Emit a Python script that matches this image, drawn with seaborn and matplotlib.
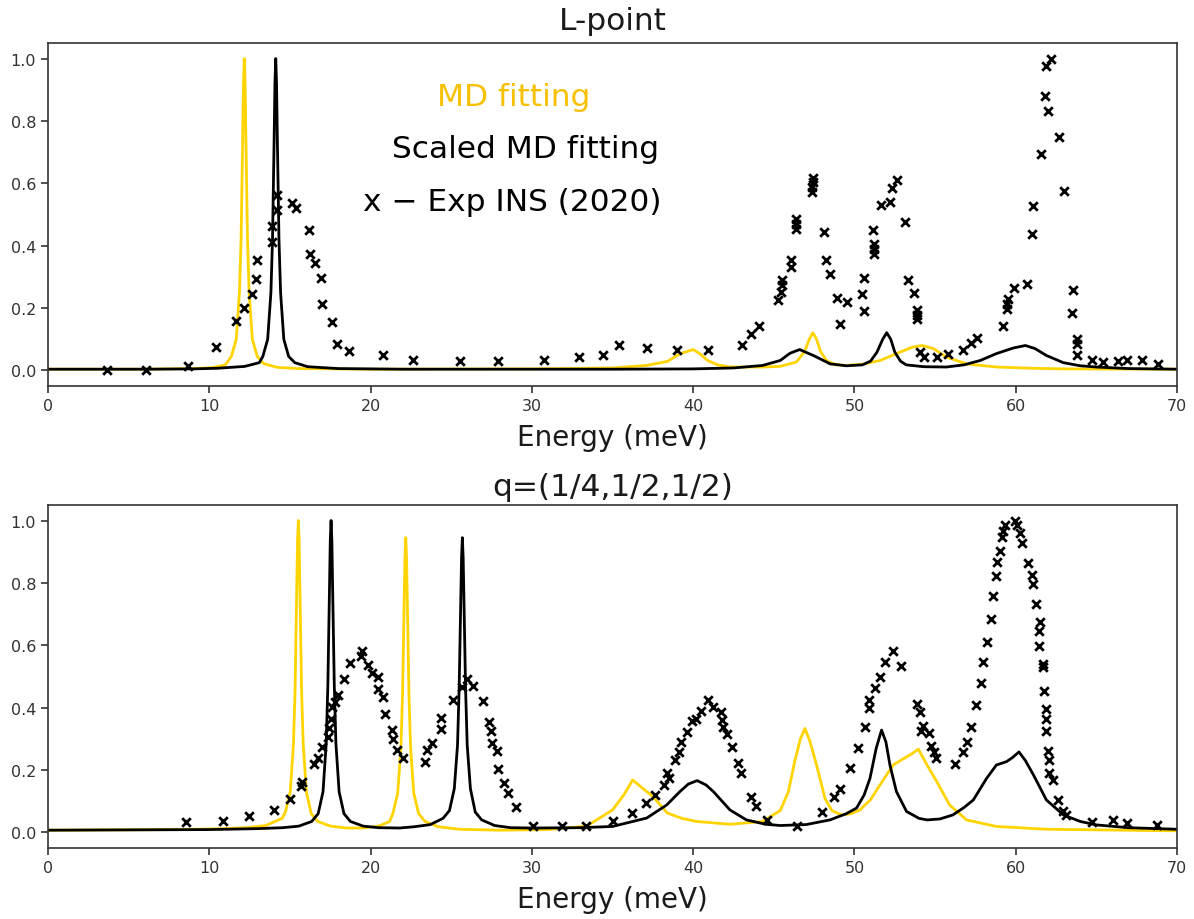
import matplotlib
matplotlib.use("Agg")
import matplotlib.pyplot as plt
import seaborn as sns
import pandas as pd

# ---------------- L-point panel ----------------
top_md_E = [0, 6, 9, 10.2, 11.0, 11.37, 11.67, 11.87, 11.97, 12.07, 12.12, 12.17, 12.22, 12.27, 12.37, 12.47,
            12.67, 12.97, 13.37, 14.2, 15.5, 20, 30, 35, 37.1, 38.4, 39.2, 40.0, 40.4, 40.9, 41.5, 42.3, 44.3,
            45.4, 46.4, 46.9, 47.2, 47.42, 47.65, 47.9, 48.3, 48.9, 49.5, 50.5, 51.6, 52.6, 53.6, 54.2, 54.9,
            55.7, 56.95, 58.8, 61, 63, 70]
top_md_I = [0.004, 0.004, 0.006, 0.009, 0.018, 0.045, 0.10, 0.25, 0.42, 0.74, 0.92, 1.0, 0.92, 0.74, 0.42, 0.25,
            0.10, 0.045, 0.022, 0.010, 0.006, 0.004, 0.005, 0.008, 0.016, 0.029, 0.054, 0.067, 0.054, 0.032, 0.018,
            0.011, 0.011, 0.013, 0.027, 0.06, 0.10, 0.121, 0.10, 0.06, 0.03, 0.018, 0.016, 0.02, 0.032, 0.054,
            0.075, 0.080, 0.070, 0.043, 0.021, 0.011, 0.007, 0.005, 0.004]

top_scaled_E = [0, 6, 9, 10.5, 12.2, 13.1, 13.32, 13.62, 13.82, 13.92, 14.02, 14.07, 14.12, 14.17, 14.22, 14.32,
                14.42, 14.62, 14.92, 15.3, 16.1, 18, 22, 35, 40, 42.5, 44.3, 45.4, 46.0, 46.6, 47.45, 48.5, 49.5,
                50.5, 51.0, 51.4, 51.75, 52.0, 52.25, 52.5, 52.85, 53.2, 54.3, 55.7, 56.8, 57.8, 58.8, 59.85,
                60.6, 61.2, 61.9, 62.95, 64, 65, 67, 70]
top_scaled_I = [0.004, 0.004, 0.005, 0.007, 0.013, 0.025, 0.045, 0.10, 0.25, 0.42, 0.74, 0.92, 1.0, 0.92, 0.74,
                0.42, 0.25, 0.10, 0.045, 0.025, 0.012, 0.006, 0.004, 0.004, 0.005, 0.008, 0.016, 0.032, 0.055,
                0.067, 0.048, 0.021, 0.015, 0.018, 0.03, 0.059, 0.10, 0.121, 0.10, 0.059, 0.03, 0.018, 0.012,
                0.011, 0.018, 0.032, 0.054, 0.072, 0.080, 0.070, 0.048, 0.025, 0.015, 0.011, 0.006, 0.004]

top_exp_E = [3.66, 6.08, 8.68, 10.4, 11.65, 12.15, 12.63, 12.9, 12.96, 13.87, 13.87, 14.2, 14.2, 15.15, 15.37,
             16.18, 16.24, 16.55, 16.92, 17.0, 17.63, 17.9, 18.68, 20.75, 22.65, 25.54, 27.88, 30.75, 32.94,
             34.43, 35.4, 37.12, 38.98, 40.9, 43.04, 43.58, 44.1, 45.28, 45.45, 45.48, 45.48, 46.05, 46.05,
             46.4, 46.4, 46.4, 47.35, 47.35, 47.41, 47.41, 48.11, 48.23, 48.48, 48.9, 49.1, 49.55, 50.44, 50.59,
             50.59, 51.17, 51.21, 51.21, 51.21, 51.66, 52.2, 52.33, 52.62, 53.13, 53.3, 53.69, 53.9, 53.9, 53.9,
             54.06, 54.31, 55.13, 55.78, 56.75, 57.2, 57.57, 59.22, 59.43, 59.43, 59.5, 59.89, 60.71, 60.99,
             61.05, 61.54, 61.81, 61.98, 61.85, 62.16, 62.7, 63.0, 63.53, 63.46, 63.77, 63.77, 63.77, 64.7,
             65.38, 66.35, 66.87, 67.8, 68.83]
top_exp_I = [0.0, 0.0, 0.015, 0.075, 0.16, 0.20, 0.244, 0.294, 0.353, 0.412, 0.462, 0.513, 0.561, 0.538, 0.522,
             0.449, 0.374, 0.345, 0.296, 0.212, 0.155, 0.086, 0.061, 0.050, 0.032, 0.029, 0.029, 0.035, 0.043,
             0.048, 0.080, 0.072, 0.064, 0.064, 0.080, 0.118, 0.144, 0.225, 0.251, 0.273, 0.289, 0.332, 0.353,
             0.455, 0.471, 0.485, 0.572, 0.588, 0.604, 0.617, 0.444, 0.353, 0.308, 0.232, 0.150, 0.219, 0.246,
             0.296, 0.192, 0.449, 0.406, 0.390, 0.374, 0.530, 0.539, 0.585, 0.610, 0.476, 0.289, 0.248, 0.193,
             0.179, 0.166, 0.059, 0.043, 0.043, 0.054, 0.067, 0.089, 0.104, 0.142, 0.198, 0.214, 0.230, 0.264,
             0.276, 0.439, 0.526, 0.695, 0.880, 0.832, 0.975, 1.0, 0.749, 0.574, 0.257, 0.185, 0.102, 0.086,
             0.048, 0.035, 0.027, 0.029, 0.032, 0.032, 0.021]

# ---------------- q=(1/4,1/2,1/2) panel ----------------
bot_md_E = [0, 8, 11, 12.5, 13.5, 14.52, 14.72, 15.02, 15.22, 15.32, 15.42, 15.47, 15.52, 15.57, 15.62, 15.72,
            15.82, 16.02, 16.32, 16.72, 17.52, 18.5, 19.5, 20.5, 21.18, 21.38, 21.68, 21.88, 21.98, 22.08, 22.13,
            22.18, 22.23, 22.28, 22.38, 22.48, 22.68, 22.98, 23.38, 24.2, 25.5, 28, 31, 33.4, 35.0, 35.7, 36.25,
            36.9, 37.5, 38.4, 39.3, 40.2, 42.3, 44.3, 45.4, 45.9, 46.3, 46.65, 46.93, 47.25, 47.65, 48.17, 48.6,
            49.2, 49.8, 50.34, 51.0, 51.58, 52.4, 52.9, 53.5, 53.96, 54.5, 55.1, 55.9, 56.95, 58.8, 61.9, 70]
bot_md_I = [0.007, 0.009, 0.012, 0.016, 0.022, 0.045, 0.065, 0.13, 0.285, 0.46, 0.775, 0.935, 1.0, 0.935, 0.775,
            0.46, 0.285, 0.13, 0.06, 0.035, 0.02, 0.014, 0.014, 0.02, 0.035, 0.06, 0.125, 0.27, 0.44, 0.735, 0.88,
            0.945, 0.88, 0.735, 0.44, 0.27, 0.125, 0.06, 0.035, 0.018, 0.01, 0.007, 0.009, 0.02, 0.072, 0.12,
            0.168, 0.14, 0.115, 0.062, 0.045, 0.035, 0.026, 0.035, 0.07, 0.13, 0.228, 0.30, 0.333, 0.29, 0.216,
            0.109, 0.07, 0.056, 0.06, 0.072, 0.105, 0.152, 0.216, 0.232, 0.25, 0.267, 0.216, 0.163, 0.088, 0.04,
            0.019, 0.01, 0.005]

bot_scaled_E = [0, 10, 13, 14.55, 15.55, 16.35, 16.75, 17.05, 17.25, 17.35, 17.45, 17.5, 17.55, 17.6, 17.65,
                17.75, 17.85, 18.05, 18.35, 18.75, 19.55, 20.5, 21.8, 22.7, 23.7, 24.49, 24.89, 25.19, 25.39,
                25.49, 25.59, 25.64, 25.69, 25.74, 25.79, 25.89, 25.99, 26.19, 26.49, 26.89, 27.69, 28.7, 30, 33,
                35.0, 37.12, 38.36, 39.18, 39.7, 40.25, 40.8, 41.25, 42.28, 43.3, 44.5, 45.4, 47, 48.48, 49.5,
                50.13, 50.6, 50.96, 51.35, 51.68, 51.95, 52.2, 52.6, 53.23, 54.0, 54.5, 55.3, 56.1, 56.8, 57.37,
                58.19, 58.8, 59.43, 59.8, 60.2, 60.6, 61.1, 61.9, 62.95, 64, 65, 67, 70]
bot_scaled_I = [0.007, 0.009, 0.012, 0.015, 0.02, 0.035, 0.06, 0.13, 0.285, 0.47, 0.775, 0.935, 1.0, 0.935, 0.775,
                0.47, 0.285, 0.13, 0.06, 0.035, 0.02, 0.015, 0.014, 0.018, 0.025, 0.045, 0.07, 0.14, 0.28, 0.46,
                0.74, 0.88, 0.945, 0.88, 0.74, 0.46, 0.28, 0.14, 0.065, 0.04, 0.022, 0.015, 0.014, 0.015, 0.019,
                0.046, 0.088, 0.131, 0.155, 0.166, 0.152, 0.131, 0.072, 0.04, 0.026, 0.022, 0.025, 0.04, 0.06,
                0.078, 0.12, 0.173, 0.27, 0.328, 0.29, 0.216, 0.131, 0.067, 0.045, 0.04, 0.043, 0.056, 0.08, 0.104,
                0.173, 0.216, 0.227, 0.24, 0.258, 0.23, 0.184, 0.104, 0.056, 0.035, 0.024, 0.015, 0.01]

bot_exp_E = [8.54, 10.87, 12.48, 14.03, 15.0, 15.68, 15.73, 16.51, 16.72, 16.97, 17.34, 17.42, 17.55, 17.63,
             17.79, 18.0, 18.35, 18.72, 19.4, 19.45, 19.82, 20.07, 20.44, 20.48, 20.75, 20.89, 21.31, 21.37,
             21.62, 22.03, 23.37, 23.48, 23.79, 24.35, 24.35, 25.09, 25.69, 25.96, 26.33, 26.95, 27.34, 27.46,
             27.55, 27.82, 27.88, 28.29, 28.54, 29.01, 30.05, 31.85, 33.35, 35.05, 36.23, 37.05, 37.63, 38.19,
             38.4, 38.52, 38.87, 39.12, 39.24, 39.63, 39.9, 40.2, 40.46, 40.9, 41.25, 41.7, 41.77, 41.87, 42.08,
             42.43, 42.8, 42.94, 43.58, 43.89, 44.6, 46.43, 47.97, 48.71, 49.12, 49.72, 50.2, 50.65, 50.88, 50.9,
             51.29, 51.58, 51.89, 52.38, 52.9, 53.89, 54.05, 54.25, 54.14, 54.64, 54.73, 54.93, 55.08, 56.25,
             56.72, 56.95, 57.2, 57.51, 57.82, 57.95, 58.2, 58.44, 58.6, 58.77, 58.81, 59.02, 59.12, 59.18, 59.33,
             59.95, 60.05, 60.26, 60.36, 60.78, 61.02, 61.09, 61.23, 61.5, 61.46, 61.46, 61.71, 61.71, 61.77,
             61.85, 61.85, 61.85, 62.02, 62.06, 62.08, 62.29, 62.6, 62.91, 63.11, 64.74, 66.05, 66.87, 68.77]
bot_exp_I = [0.033, 0.038, 0.051, 0.072, 0.107, 0.150, 0.163, 0.219, 0.240, 0.274, 0.306, 0.335, 0.365, 0.402,
             0.418, 0.441, 0.492, 0.544, 0.567, 0.583, 0.537, 0.512, 0.498, 0.461, 0.434, 0.381, 0.328, 0.299,
             0.264, 0.239, 0.227, 0.264, 0.285, 0.330, 0.367, 0.423, 0.466, 0.492, 0.469, 0.421, 0.354, 0.324,
             0.287, 0.260, 0.202, 0.157, 0.125, 0.080, 0.019, 0.019, 0.019, 0.037, 0.062, 0.094, 0.120, 0.152,
             0.189, 0.173, 0.232, 0.258, 0.290, 0.322, 0.356, 0.365, 0.388, 0.425, 0.402, 0.386, 0.360, 0.338,
             0.314, 0.274, 0.221, 0.189, 0.112, 0.083, 0.040, 0.019, 0.064, 0.115, 0.140, 0.207, 0.271, 0.339,
             0.398, 0.424, 0.463, 0.498, 0.547, 0.583, 0.535, 0.412, 0.385, 0.342, 0.326, 0.319, 0.277, 0.259,
             0.237, 0.220, 0.259, 0.291, 0.339, 0.410, 0.480, 0.546, 0.612, 0.684, 0.758, 0.822, 0.867, 0.902,
             0.948, 0.966, 0.984, 1.0, 0.987, 0.961, 0.929, 0.865, 0.824, 0.796, 0.732, 0.673, 0.647, 0.599,
             0.540, 0.530, 0.452, 0.397, 0.365, 0.324, 0.262, 0.232, 0.192, 0.168, 0.104, 0.067, 0.056, 0.033,
             0.040, 0.030, 0.024]

panel_titles = ["L-point", "q=(1/4,1/2,1/2)"]
x_label = "Energy (meV)"
legend_texts = ["MD fitting", "Scaled MD fitting", "x \u2212 Exp INS (2020)"]

MD_COLOR = "#FFD400"
TEXT_GOLD = "#F7C000"

sns.set_theme(style="ticks")
plt.rcParams["font.family"] = ["DejaVu Sans"]

fig = plt.figure(figsize=(11.94, 9.2), dpi=100)
ax_top = fig.add_axes([0.0402, 0.5793, 0.9456, 0.3729])
ax_bot = fig.add_axes([0.0402, 0.0772, 0.9456, 0.3729])

panels = [
    (ax_top, top_md_E, top_md_I, top_scaled_E, top_scaled_I, top_exp_E, top_exp_I),
    (ax_bot, bot_md_E, bot_md_I, bot_scaled_E, bot_scaled_I, bot_exp_E, bot_exp_I),
]

title_pads = [10, 7]
for i, (ax, mdE, mdI, scE, scI, exE, exI) in enumerate(panels):
    md = pd.DataFrame({"E": mdE, "I": mdI})
    sc = pd.DataFrame({"E": scE, "I": scI})
    ex = pd.DataFrame({"E": exE, "I": exI})
    sns.lineplot(data=md, x="E", y="I", ax=ax, color=MD_COLOR, linewidth=2.0, estimator=None)
    sns.lineplot(data=sc, x="E", y="I", ax=ax, color="black", linewidth=2.0, estimator=None)
    sns.scatterplot(data=ex, x="E", y="I", ax=ax, marker="x", color="black", s=38, linewidth=2.0, zorder=3)
    ax.set_xlim(0, 70)
    ax.set_ylim(-0.05, 1.05)
    ax.set_xticks(range(0, 71, 10))
    ax.set_yticks([0.0, 0.2, 0.4, 0.6, 0.8, 1.0])
    ax.set_yticklabels(["0.0", "0.2", "0.4", "0.6", "0.8", "1.0"])
    ax.tick_params(labelsize=11.5, length=5, width=1.2, colors="0.2")
    ax.set_xlabel(x_label, fontsize=20, labelpad=7, color="0.1")
    ax.set_ylabel("")
    ax.set_title(panel_titles[i], fontsize=22.5, pad=title_pads[i], color="0.1")
    for sp in ax.spines.values():
        sp.set_color("0.2")
        sp.set_linewidth(1.2)

ax_top.text(28.9, 0.878, legend_texts[0], color=TEXT_GOLD, fontsize=22.5, ha="center", va="center")
ax_top.text(29.6, 0.711, legend_texts[1], color="black", fontsize=22.5, ha="center", va="center")
ax_top.text(28.8, 0.541, legend_texts[2], color="black", fontsize=22.5, ha="center", va="center")

fig.savefig("out.png", dpi=100)
